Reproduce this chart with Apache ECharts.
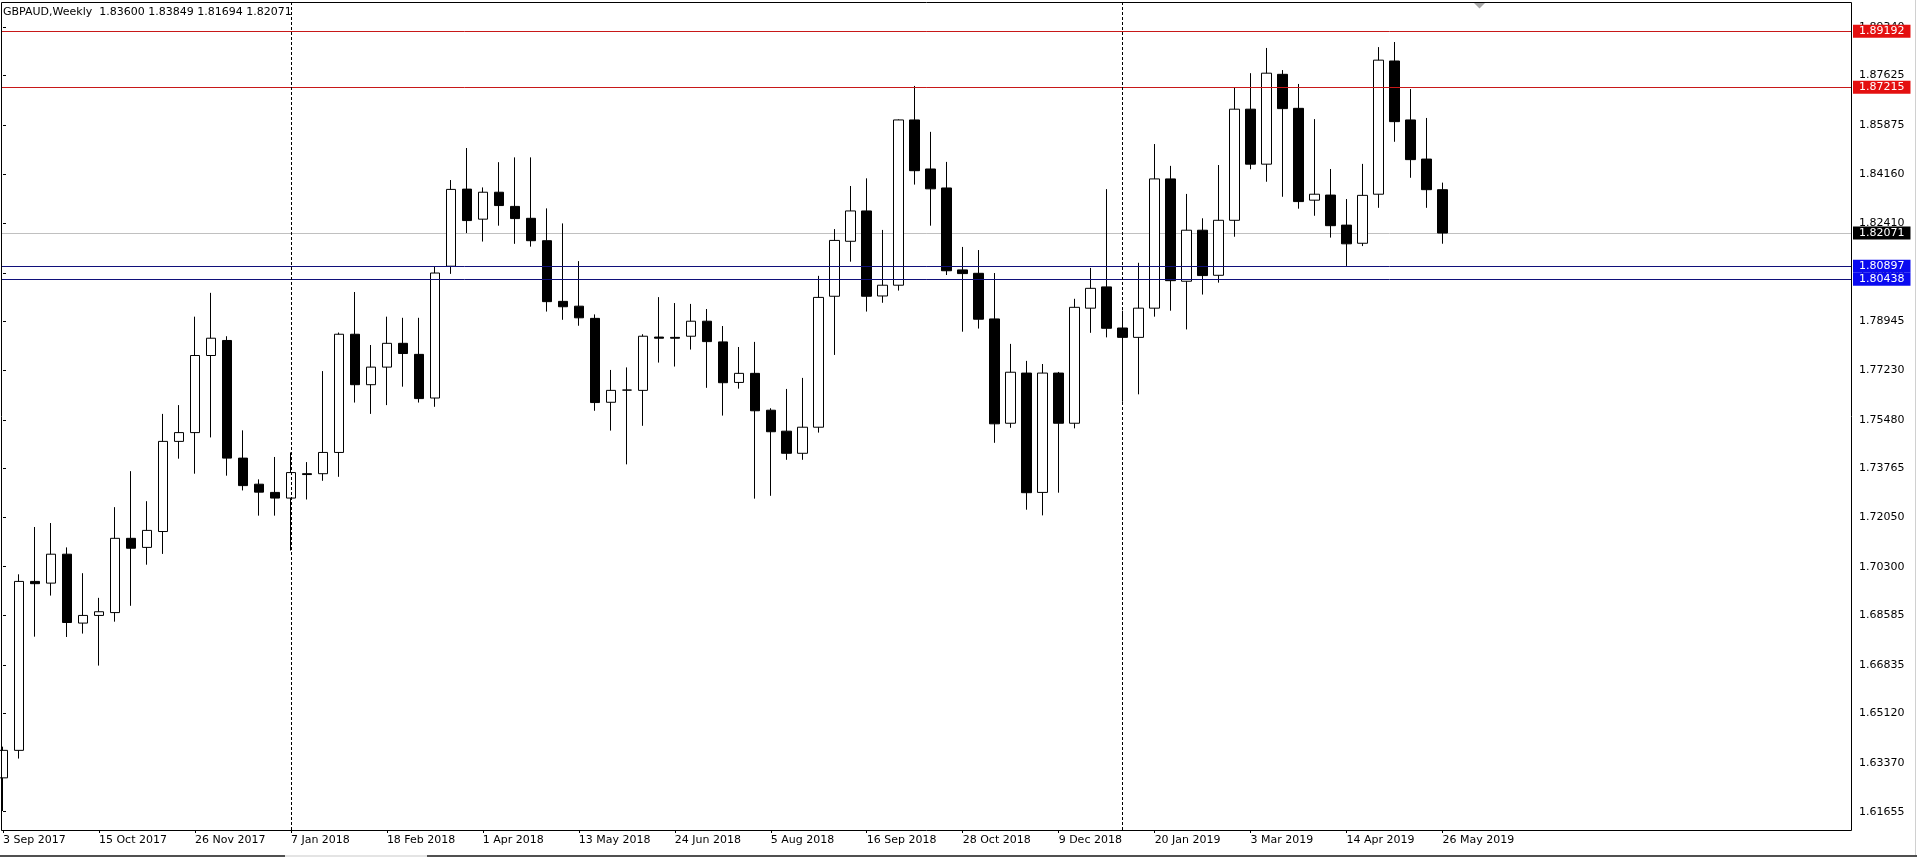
<!DOCTYPE html>
<html>
<head>
<meta charset="utf-8">
<script src="https://cdn.jsdelivr.net/npm/echarts@6/dist/echarts.min.js"></script>
<style>
html,body{margin:0;padding:0;background:#fff;}
#chart{width:1917px;height:857px;}
</style>
</head>
<body>
<div id="chart"></div>
<script>
// ---- data (weekly candles, first week = 3 Sep 2017) ----
const symbolName = 'GBPAUD,Weekly';
const opens = [
  1.6285,1.6382,1.6978,1.6972,1.7074,1.6831,1.6858,1.6868,1.7130,1.7098,
  1.7154,1.7472,1.7503,1.7775,1.7828,1.7413,1.7321,1.7292,1.7272,1.7358,
  1.7358,1.7433,1.7850,1.7672,1.7734,1.7818,1.7779,1.7625,1.8090,1.8362,
  1.8256,1.8351,1.8301,1.8259,1.8180,1.7966,1.7949,1.7906,1.7610,1.7653,
  1.7652,1.7840,1.7839,1.7843,1.7896,1.7823,1.7680,1.7712,1.7582,1.7508,
  1.7430,1.7522,1.7984,1.8178,1.8285,1.7985,1.8023,1.8606,1.8433,1.8366,
  1.8077,1.8065,1.7904,1.7536,1.7713,1.7292,1.7713,1.7536,1.7942,1.8017,
  1.7872,1.7839,1.7942,1.8398,1.8037,1.8217,1.8058,1.8252,1.8644,1.8450,
  1.8767,1.8647,1.8323,1.8341,1.8235,1.8171,1.8344,1.8814,1.8606,1.8468,
  1.83600
];
const highs = [
  1.6395,1.7003,1.7170,1.7184,1.7098,1.7007,1.6920,1.7240,1.7367,1.7261,
  1.7569,1.7600,1.7912,1.7996,1.7843,1.7511,1.7338,1.7417,1.7433,1.7399,
  1.7720,1.7856,1.7999,1.7812,1.7912,1.7908,1.7908,1.8090,1.8394,1.8507,
  1.8368,1.8457,1.8474,1.8474,1.8294,1.8241,1.8108,1.7920,1.7724,1.7733,
  1.7850,1.7981,1.7960,1.7957,1.7939,1.7879,1.7805,1.7823,1.7589,1.7657,
  1.7696,1.8056,1.8221,1.8373,1.8400,1.8218,1.8608,1.8726,1.8564,1.8458,
  1.8158,1.8147,1.8066,1.7816,1.7756,1.7745,1.7717,1.7975,1.8084,1.8362,
  1.7933,1.8102,1.8521,1.8444,1.8345,1.8259,1.8447,1.8719,1.8771,1.8860,
  1.8782,1.8733,1.8609,1.8433,1.8327,1.8451,1.8863,1.8881,1.8715,1.8613,
  1.83849
];
const lows = [
  1.6168,1.6353,1.6783,1.6928,1.6782,1.6794,1.6681,1.6836,1.6892,1.7037,
  1.7075,1.7411,1.7358,1.7486,1.7351,1.7299,1.7210,1.7210,1.7087,1.7267,
  1.7333,1.7347,1.7609,1.7569,1.7600,1.7665,1.7609,1.7594,1.8063,1.8207,
  1.8177,1.8233,1.8169,1.8159,1.7930,1.7901,1.7880,1.7580,1.7510,1.7391,
  1.7527,1.7750,1.7736,1.7796,1.7661,1.7563,1.7658,1.7270,1.7280,1.7407,
  1.7407,1.7503,1.7777,1.8106,1.7930,1.7961,1.8004,1.8378,1.8233,1.8059,
  1.7859,1.7870,1.7467,1.7520,1.7231,1.7211,1.7291,1.7518,1.7855,1.7839,
  1.7612,1.7638,1.7912,1.7933,1.7867,1.7990,1.8032,1.8194,1.8432,1.8388,
  1.8335,1.8293,1.8268,1.8191,1.8091,1.8161,1.8296,1.8529,1.8402,1.8296,
  1.81694
];
const closes = [
  1.6382,1.6978,1.6970,1.7074,1.6833,1.6858,1.6871,1.7130,1.7095,1.7158,
  1.7472,1.7503,1.7775,1.7836,1.7413,1.7316,1.7293,1.7272,1.7362,1.7355,
  1.7433,1.7850,1.7672,1.7734,1.7818,1.7782,1.7623,1.8066,1.8361,1.8251,
  1.8351,1.8304,1.8258,1.8180,1.7965,1.7947,1.7908,1.7609,1.7652,1.7653,
  1.7843,1.7836,1.7836,1.7896,1.7824,1.7679,1.7712,1.7580,1.7506,1.7430,
  1.7522,1.7980,1.8181,1.8285,1.7984,1.8023,1.8606,1.8427,1.8363,1.8074,
  1.8064,1.7903,1.7534,1.7716,1.7291,1.7713,1.7536,1.7945,1.8012,1.7871,
  1.7839,1.7942,1.8398,1.8039,1.8217,1.8057,1.8252,1.8644,1.8450,1.8771,
  1.8646,1.8318,1.8344,1.8233,1.8169,1.8340,1.8817,1.8600,1.8466,1.8360,
  1.82071
];
const priceTicks = [1.61655,1.63370,1.65120,1.66835,1.68585,1.70300,1.72050,1.73765,
  1.75480,1.77230,1.78945,1.80660,1.82410,1.84160,1.85875,1.87625,1.89340];
const timeTickIndex = [0,6,12,18,24,30,36,42,48,54,60,66,72,78,84,90];
const timeTickLabels = ['3 Sep 2017','15 Oct 2017','26 Nov 2017','7 Jan 2018','18 Feb 2018',
  '1 Apr 2018','13 May 2018','24 Jun 2018','5 Aug 2018','16 Sep 2018','28 Oct 2018',
  '9 Dec 2018','20 Jan 2019','3 Mar 2019','14 Apr 2019','26 May 2019'];
const resistanceLevels = [1.89192, 1.87215];
const supportLevels = [1.80897, 1.80438];
const yearSeparators = [18, 70];

// ---- build ----
const candles = opens.map((o, i) => [i, o, closes[i], lows[i], highs[i]]);
const last = opens.length - 1;
const bid = closes[last];
const fmt = v => v.toFixed(5);
const titleText = symbolName + '  ' + [opens[last], highs[last], lows[last], closes[last]].map(fmt).join(' ');
const FONT = 'DejaVu Sans';

function levelLine(v, lineColor, boxColor) {
  return {
    yAxis: v,
    lineStyle: {color: lineColor, width: 1, type: 'solid'},
    label: {
      show: true, position: 'end', distance: 1,
      formatter: () => fmt(v),
      color: '#fff', backgroundColor: boxColor,
      fontFamily: FONT, fontSize: 11, lineHeight: 13,
      padding: [0, 6, 0, 6]
    }
  };
}

const chart = echarts.init(document.getElementById('chart'), null, {renderer: 'canvas'});
chart.setOption({
  animation: false,
  backgroundColor: '#ffffff',
  grid: {left: 1, right: 65, top: 3, bottom: 27, show: false},
  xAxis: {
    type: 'value',
    min: -0.08,
    max: 115.6,
    axisLine: {show: false},
    splitLine: {show: false},
    axisTick: {show: true, length: 3, lineStyle: {color: '#000'}, customValues: timeTickIndex},
    axisLabel: {
      customValues: timeTickIndex,
      formatter: v => timeTickLabels[timeTickIndex.indexOf(Math.round(v))] || '',
      align: 'left', margin: 5, color: '#000', fontFamily: FONT, fontSize: 11
    }
  },
  yAxis: {
    type: 'value',
    position: 'right',
    min: 1.61010,
    max: 1.90186,
    scale: true,
    axisLine: {show: false},
    splitLine: {show: false},
    axisTick: {show: true, length: 3, lineStyle: {color: '#000'}, customValues: priceTicks},
    axisLabel: {
      customValues: priceTicks,
      formatter: v => fmt(v),
      align: 'left', margin: 7, color: '#000', fontFamily: FONT, fontSize: 11
    }
  },
  series: [
    {
      type: 'line',
      data: [],
      silent: true,
      markLine: {
        z: 1,
        precision: 5,
        silent: true,
        symbol: ['none', 'none'],
        animation: false,
        data: [{
          yAxis: bid,
          lineStyle: {color: '#c0c0c0', width: 1, type: 'solid'},
          label: {
            show: true, position: 'end', distance: 1,
            formatter: () => fmt(bid),
            color: '#fff', backgroundColor: '#000',
            fontFamily: FONT, fontSize: 11, lineHeight: 13,
            padding: [0, 6, 0, 6]
          }
        }]
      }
    },
    {
      type: 'candlestick',
      data: candles,
      barWidth: 10,
      z: 2,
      itemStyle: {
        color: '#ffffff', color0: '#000000',
        borderColor: '#000000', borderColor0: '#000000', borderColorDoji: '#000000',
        borderWidth: 1
      },
      markLine: {
        z: 5,
        precision: 5,
        silent: true,
        symbol: ['none', 'none'],
        animation: false,
        data: [
          ...resistanceLevels.map(v => levelLine(v, '#c81818', '#e41010')),
          ...supportLevels.map(v => levelLine(v, '#10107a', '#0a0af0')),
          ...yearSeparators.map(x => ({
            xAxis: x,
            lineStyle: {color: '#000', width: 1, type: [3, 2]},
            label: {show: false}
          }))
        ]
      }
    }
  ],
  graphic: [
    {type: 'text', left: 3, top: 7, silent: true,
     style: {text: titleText, fill: '#000', font: '11px "DejaVu Sans"'}},
    {type: 'rect', silent: true, z: 10,
     shape: {x: 1.5, y: 2.5, width: 1850, height: 828},
     style: {fill: 'none', stroke: '#000', lineWidth: 1}},
    {type: 'polygon', silent: true, z: 10,
     shape: {points: [[1474, 3], [1485, 3], [1479.5, 8.5]]},
     style: {fill: '#a8a8a8'}},
    {type: 'rect', silent: true, shape: {x: 1915, y: 0, width: 1, height: 857}, style: {fill: '#d0d0d0'}},
    {type: 'rect', silent: true, shape: {x: 0, y: 855, width: 1917, height: 2}, style: {fill: '#505050'}},
    {type: 'rect', silent: true, shape: {x: 285, y: 855, width: 142, height: 2}, style: {fill: '#e4e4e4'}}
  ]
});
</script>
</body>
</html>
